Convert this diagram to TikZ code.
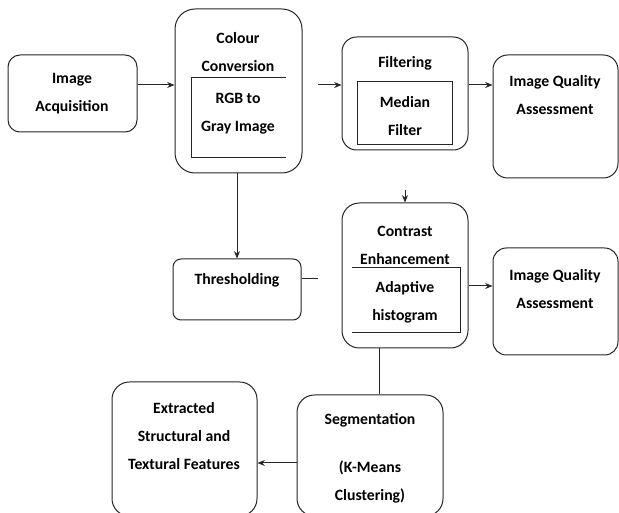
\documentclass[tikz,border=0pt]{standalone}
\usepackage{fontspec}
\setmainfont{Carlito}
\usetikzlibrary{arrows.meta,fit}
\begin{document}
\begin{tikzpicture}[x=0.75pt,y=-0.75pt,
 box/.style={draw=black!85, line width=0.75pt, inner sep=0pt},
 txt/.style={align=center, font=\fontsize{11.8}{21}\selectfont\bfseries, inner sep=0pt},
 arr/.style={-{Stealth[length=5.5pt,width=4.5pt]}, line width=0.75pt, draw=black!85},
 ln/.style={line width=0.75pt, draw=black!85}]
\useasboundingbox (0,0) rectangle (619,513);
\clip (0,0) rectangle (619,513);
% boxes
\node[box, rounded corners=9pt,  fit={(8,55)(137,132)}] (acq) {};
\node[box, rounded corners=15pt, fit={(175,9)(302,173)}] (colour) {};
\node[box, rounded corners=11pt, fit={(342,37)(468,150)}] (filt) {};
\node[box, fit={(357,82)(452,145)}] (med) {};
\node[box, rounded corners=11pt, fit={(493,55)(618,178)}] (iqa1) {};
\node[box, rounded corners=6pt,  fit={(173,259)(301,320)}] (thr) {};
\node[box, rounded corners=13pt, fit={(342,203)(468,348)}] (con) {};
\node[box, rounded corners=10pt, fit={(493,248)(618,355)}] (iqa2) {};
\node[box, rounded corners=13pt, fit={(297,395)(443,516)}] (seg) {};
\node[box, rounded corners=13pt, fit={(112,382)(257,516)}] (ext) {};
% inner open frames
\draw[ln] (286,78) -- (191,78) -- (191,158) -- (286,158);
\draw[ln] (352,268) -- (460,268) -- (460,333) -- (352,333);
% texts
\node[txt] (tacq) at (72,93.5) {Image\\Acquisition};
\node[txt] (tcol) at (238,52.5) {Colour\\Conversion};
\node[txt] (trgb) at (238,114) {RGB to\\Gray Image};
\node[txt] (tfil) at (405,63) {Filtering};
\node[txt] (tmed) at (405,116) {Median\\Filter};
\node[txt] (tiqa1) at (555,95.5) {Image Quality\\Assessment};
\node[txt] (tthr) at (237,280) {Thresholding};
\node[txt] (tcon) at (405,245) {Contrast\\Enhancement};
\node[txt] (tada) at (405,302.5) {Adaptive\\histogram};
\node[txt] (tiqa2) at (555,289.5) {Image Quality\\Assessment};
\node[txt] (tseg) at (370,420) {Segmentation};
\node[txt] (tkm) at (370,481.5) {(K-Means\\Clustering)};
\node[txt] (text) at (184,436.5) {Extracted\\Structural and\\Textural Features};
% free ends
\coordinate (fin) at (318,85);
\coordinate (cin) at (405,190);
\coordinate (tout) at (318,279);
% connectors
\draw[arr] (acq.east |- 0,85) -- (colour.west |- 0,85);
\draw[arr] (fin) -- (filt.west |- fin);
\draw[arr] (filt.east |- 0,85) -- (iqa1.west |- 0,85);
\draw[arr] (colour.south -| 237,0) -- (thr.north -| 237,0);
\draw[arr] (cin) -- (con.north -| cin);
\draw[ln] (thr.east |- tout) -- (tout);
\draw[arr] (con.east |- 0,286) -- (iqa2.west |- 0,286);
\draw[ln] (con.south -| 379,0) -- (seg.north -| 379,0);
\draw[arr] (seg.west |- 0,463) -- (ext.east |- 0,463);
\end{tikzpicture}
\end{document}
